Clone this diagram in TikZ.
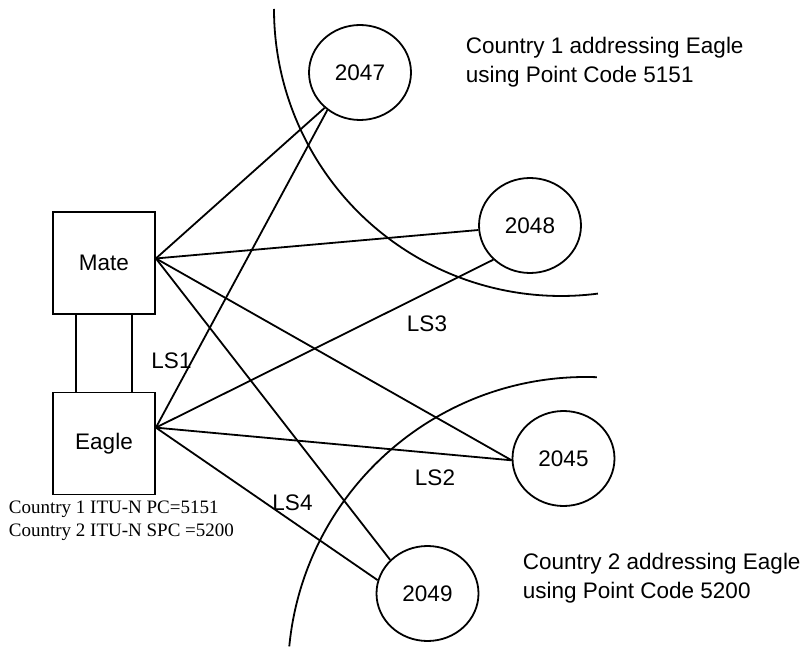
\documentclass[tikz,border=0pt]{standalone}
\usepackage{fontspec}
\newfontfamily\sansf{Liberation Sans}
\newfontfamily\seriff{Liberation Serif}
\usetikzlibrary{shapes.geometric}
\begin{document}
\begin{tikzpicture}[x=1pt,y=-1pt, line width=1.8pt,
  sanstext/.style={font=\sansf\fontsize{22.5}{29}\selectfont},
  box/.style={draw, rectangle, minimum width=102pt, minimum height=102pt, inner sep=0pt, sanstext},
  sp/.style={draw, ellipse, minimum width=102pt, minimum height=95pt, inner sep=0pt, sanstext},
  lbl/.style={inner sep=0pt, sanstext},
  note/.style={inner sep=0pt, anchor=north west, align=left, sanstext},
  link/.style={line width=1.8pt},
  zone/.style={line width=1.8pt}
]
\useasboundingbox (0,0) rectangle (806,647);

% boxes
\node[box] (mate) at (104,263) {Mate};
\node[box] (eagle) at (104,443.5) {Eagle};

% signalling points
\node[sp] (n2047) at (360,72.5) {2047};
\node[sp] (n2048) at (530,225.5) {2048};
\node[sp] (n2045) at (563.5,458.5) {2045};
\node[sp] (n2049) at (427.5,593.5) {2049};

% zone arcs
\draw[zone] (274,9) arc[start angle=180, end angle=82.6, radius=287];
\draw[zone] (596.8,377.2) arc[start angle=272.1, end angle=185.5, radius=298];

% mate-eagle links
\draw[link] ([xshift=24pt]mate.south west) -- ([xshift=24pt]eagle.north west);
\draw[link] ([xshift=80pt]mate.south west) -- ([xshift=80pt]eagle.north west);

% links from Mate
\draw[link] (mate.5.6) -- (n2047.225);
\draw[link] (mate.5.6) -- (n2048.185);
\draw[link] (mate.5.6) -- (n2045.182);
\draw[link] (mate.5.6) -- (n2049.138);

% links from Eagle
\draw[link] (eagle.17) -- (n2047.229);
\draw[link] (eagle.17) -- (n2048.223);
\draw[link] (eagle.17) -- (n2045.182);
\draw[link] (eagle.17) -- (n2049.165);

% link labels
\node[lbl] (ls1) at (171.5,361) {LS1};
\node[lbl] (ls3) at (427,323.5) {LS3};
\node[lbl] (ls2) at (435,477.5) {LS2};
\node[lbl] (ls4) at (292.5,503) {LS4};

% notes
\node[note] (c1) at (465,36.5) {Country 1 addressing Eagle\\using Point Code 5151};
\node[note] (c2) at (522,552.5) {Country 2 addressing Eagle\\using Point Code 5200};
\node[inner sep=0pt, anchor=north west, align=left, font=\seriff\fontsize{19}{23}\selectfont] (pc) at (8,500)
  {Country 1 ITU-N PC=5151\\Country 2 ITU-N SPC =5200};
\end{tikzpicture}
\end{document}
